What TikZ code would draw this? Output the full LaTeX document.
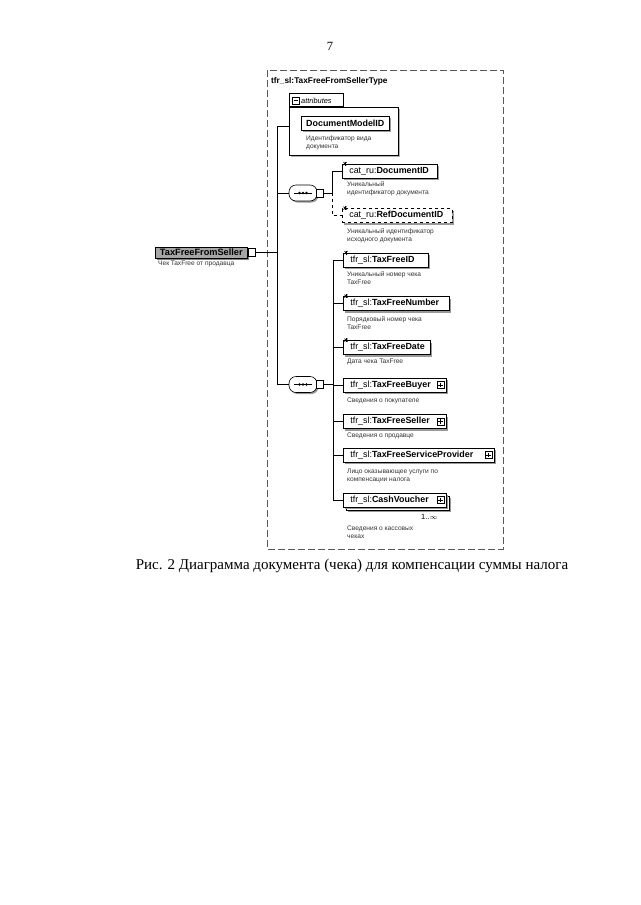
\documentclass[tikz,border=0pt]{standalone}
\usepackage{fontspec}
\setmainfont{Liberation Serif}
\newfontfamily\dgm{Liberation Sans}
\usetikzlibrary{shadows}
\newcommand\ebox[2]{\makebox[#1pt][l]{\hspace*{7pt}#2}}
\newcommand\plusicon[1]{%
  \draw[fill=white,line width=0.5pt] ([shift={(-9.5,-3.5)}]#1.east) rectangle ([shift={(-2.5,3.5)}]#1.east);
  \draw[line width=0.5pt] ([shift={(-6,-2.3)}]#1.east) -- ([shift={(-6,2.3)}]#1.east);
  \draw[line width=0.5pt] ([shift={(-8.3,0)}]#1.east) -- ([shift={(-3.7,0)}]#1.east);}
\newcommand\simpleicon[1]{%
  \draw[line width=0.7pt] ([shift={(1.5,-1.5)}]#1.north west) -- ([shift={(4.5,1.5)}]#1.north west);
  \draw[line width=0.7pt] ([shift={(1.5,1.5)}]#1.north west) -- ([shift={(4.5,-1.5)}]#1.north west);
  \draw[line width=0.7pt] ([shift={(3,-2)}]#1.north west) -- ([shift={(3,2)}]#1.north west);}
\begin{document}
\begin{tikzpicture}[x=1pt,y=-1pt,
  elem/.style={draw, fill=white, line width=0.6pt, anchor=west, minimum height=14pt,
    inner xsep=0pt, inner ysep=0pt, font=\dgm\fontsize{8.9}{10}\selectfont,
    drop shadow={shadow xshift=2pt, shadow yshift=-2pt, fill=black!40, opacity=1}},
  optelem/.style={elem, dashed},
  desc/.style={anchor=north west, align=left, inner sep=0pt,
    font=\dgm\fontsize{6.6}{8}\selectfont, text=black!80},
  conn/.style={line width=0.6pt},
  seqnode/.style={draw, fill=white, rounded corners=7pt, minimum width=28pt, minimum height=16pt,
    line width=0.6pt, inner sep=0pt,
    drop shadow={shadow xshift=1.5pt, shadow yshift=-1.5pt, fill=black!40, opacity=1}},
  sqnode/.style={draw, fill=white, minimum width=7pt, minimum height=8pt, inner sep=0pt, line width=0.6pt, anchor=west},
]
\useasboundingbox (0,0) rectangle (640,905);

% page number
\node[font=\fontsize{12.5}{14}\selectfont] (pg) at (330,46) {7};

% outer type box
\draw[black!65, line width=0.6pt, dash pattern=on 7pt off 3pt] (267,70) rectangle (503,549);
\node[anchor=west, inner sep=0pt, font=\dgm\bfseries\fontsize{8.3}{10}\selectfont] (title) at (271,81) {tfr\_sl:TaxFreeFromSellerType};

% attributes
\node[draw, fill=white, line width=0.6pt, anchor=north west, minimum width=109pt, minimum height=48pt,
  drop shadow={shadow xshift=1.5pt, shadow yshift=-1.5pt, fill=black!30, opacity=1}] (attrbox) at (289,107) {};
\node[draw, fill=white, line width=0.6pt, anchor=south west, minimum width=54pt, minimum height=13pt, inner sep=0pt] (attrtab) at (289,107) {};
\node[anchor=west, inner sep=0pt, font=\dgm\itshape\fontsize{7.4}{9}\selectfont] (attrtxt) at (301,100.5) {attributes};
\draw[line width=0.5pt] (292,97) rectangle (299,104);
\draw[line width=0.5pt] (293.5,100.5) -- (297.5,100.5);
\node[elem, anchor=west] (dmid) at (301,123) {\makebox[88pt][c]{\textbf{DocumentModelID}}};
\node[desc] (dmiddesc) at (306,136) {Идентификатор вида\\документа};

% root element
\node[draw, fill=black!35, line width=0.6pt, anchor=west, minimum width=92pt, minimum height=11pt, inner sep=0pt,
  font=\dgm\bfseries\fontsize{9.2}{10}\selectfont,
  drop shadow={shadow xshift=1.5pt, shadow yshift=-1.5pt, fill=black!50, opacity=1}] (root) at (155,252.5) {TaxFreeFromSeller};
\node[sqnode] (rootsq) at (root.east) {};
\node[desc] (rootdesc) at (158,261) {Чек TaxFree от продавца};

% sequences
\node[seqnode] (seq1) at (303,193) {};
\node[sqnode] (seq1sq) at ([xshift=-1pt]seq1.east) {};
\node[seqnode] (seq2) at (303,384.5) {};
\node[sqnode] (seq2sq) at ([xshift=-1pt]seq2.east) {};
\foreach \s in {seq1,seq2}{
  \draw[line width=0.6pt] ([xshift=-9pt]\s.center) -- ([xshift=9pt]\s.center);
  \foreach \dx in {-3.5,0,3.5} \fill ([xshift=\dx pt]\s.center) circle (1.3pt);
}

% first sequence elements
\node[elem] (docid) at (342,171) {\ebox{95}{cat\_ru:\textbf{DocumentID}}};
\simpleicon{docid}
\node[desc] (dociddesc) at (347,181) {Уникальный\\идентификатор документа};
\node[optelem] (refdoc) at (342,215.5) {\ebox{110}{cat\_ru:\textbf{RefDocumentID}}};
\simpleicon{refdoc}
\node[desc] (refdocdesc) at (347,228) {Уникальный идентификатор\\исходного документа};

% second sequence elements
\node[elem] (tfid) at (343,260) {\ebox{85}{tfr\_sl:\textbf{TaxFreeID}}};
\simpleicon{tfid}
\node[desc] (tfiddesc) at (347,271) {Уникальный номер чека\\TaxFree};
\node[elem] (tfnum) at (343,303.5) {\ebox{106}{tfr\_sl:\textbf{TaxFreeNumber}}};
\simpleicon{tfnum}
\node[desc] (tfnumdesc) at (347,316) {Порядковый номер чека\\TaxFree};
\node[elem] (tfdate) at (343,347.5) {\ebox{87}{tfr\_sl:\textbf{TaxFreeDate}}};
\simpleicon{tfdate}
\node[desc] (tfdatedesc) at (347,359) {Дата чека TaxFree};
\node[elem] (buyer) at (343,385) {\ebox{103}{tfr\_sl:\textbf{TaxFreeBuyer}}};
\plusicon{buyer}
\node[desc] (buyerdesc) at (347,398) {Сведения о покупателе};
\node[elem] (seller) at (343,421.5) {\ebox{103}{tfr\_sl:\textbf{TaxFreeSeller}}};
\plusicon{seller}
\node[desc] (sellerdesc) at (347,433) {Сведения о продавце};
\node[elem] (tfsp) at (343,455) {\ebox{151}{tfr\_sl:\textbf{TaxFreeServiceProvider}}};
\plusicon{tfsp}
\node[desc] (tfspdesc) at (347,469) {Лицо оказывающее услуги по\\компенсации налога};
\node[elem] (cvback) at (346,503) {\ebox{103}{}};
\node[elem] (cv) at (343,500) {\ebox{103}{tfr\_sl:\textbf{CashVoucher}}};
\plusicon{cv}
\node[anchor=west, inner sep=0pt, font=\dgm\fontsize{7.5}{9}\selectfont] (cvocc) at (421,517) {1..$\infty$};
\node[desc] (cvdesc) at (347,526) {Сведения о кассовых\\чеках};

% connectors
\coordinate (vt) at (277,126);
\coordinate (vb) at (277,384.5);
\coordinate (b1) at (332,193);
\coordinate (b2) at (333,384.5);
\draw[conn] (vt) -- (vb);
\draw[conn] (vt) -- (attrbox.west |- vt);
\draw[conn] (rootsq.east) -- (rootsq.east -| vt);
\draw[conn] (seq1.west -| vt) -- (seq1.west);
\draw[conn] (vb) -- (seq2.west);
\draw[conn] (seq1sq.east) -- (b1);
\draw[conn] (b1) |- (docid.west);
\draw[conn, dashed] (b1) |- (refdoc.west);
\draw[conn] (seq2sq.east) -- (b2);
\foreach \e in {tfid,tfnum,tfdate,buyer,seller,tfsp,cv}
  \draw[conn] (b2) |- (\e.west);

% caption
\node[font=\fontsize{15}{17}\selectfont] (cap) at (352,566) {Рис. 2 Диаграмма документа (чека) для компенсации суммы налога};
\end{tikzpicture}
\end{document}
